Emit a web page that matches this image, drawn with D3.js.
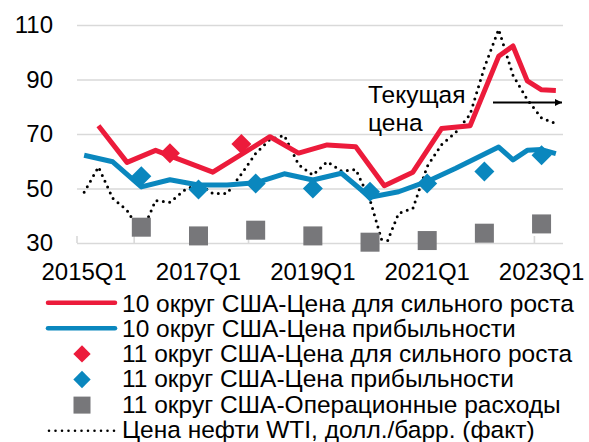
<!DOCTYPE html>
<html>
<head>
<meta charset="utf-8">
<script src="https://cdn.jsdelivr.net/npm/d3@7"></script>
<style>
  html, body { margin: 0; padding: 0; background: #ffffff; }
  svg { display: block; font-family: "Liberation Sans", Arial, sans-serif; }
</style>
</head>
<body>
<svg id="chart" width="589" height="442"></svg>
<script>
// Quarters 2015Q1 .. 2023Q2
const quarters = [];
for (let yr = 2015; yr <= 2023; yr++) {
  for (let q = 1; q <= 4; q++) {
    if (yr === 2023 && q > 2) break;
    quarters.push(yr + "Q" + q);
  }
}
const xTickLabels = ["2015Q1", "2017Q1", "2019Q1", "2021Q1", "2023Q1"];
const yTicks = [30, 50, 70, 90, 110];

// 10th district: price needed for strong growth (survey quarters only)
const kcGrowth = [null, 73, null, 59.6, null, 64, null, null, null, 56, null, null, null, 69, null, 63, null, 66,
  null, 65.3, null, 51, null, 56, null, 72, null, 73, null, 98.5, 102.3, 89.5, 86.2, 86];
// 10th district: price needed to be profitable
const kcProfit = [62.2, null, 59.8, null, 50.6, null, 53.2, null, 51.3, null, 51.3, null, 52.1, null, 55.4, null, 53.1, null,
  55.6, null, 46.8, null, 48.8, null, 52.6, null, 57.4, null, null, 65.2, 60.5, 64, 64.3, 62.8];
// 11th district survey points
const dalGrowth = [null, null, null, null, null, null, 62.9, null, null, null, null, 66.3, null, null, null, null, null, null,
  null, null, null, null, null, null, null, null, null, null, null, null, null, null, null, null];
const dalProfit = [null, null, null, null, 54.5, null, null, null, 49.6, null, null, null, 51.8, null, null, null, 50, null,
  null, null, 48.8, null, null, null, 51.8, null, null, null, 56.2, null, null, null, 62.2, null];
const dalOpex = [null, null, null, null, 35.8, null, null, null, 32.6, null, null, null, 34.7, null, null, null, 32.6, null,
  null, null, 30.3, null, null, null, 30.9, null, null, null, 33.6, null, null, null, 37, null];
// WTI crude, quarterly average, $/bbl
const wti = [48.6, 57.9, 46.4, 42.0, 33.4, 45.6, 44.9, 49.3, 51.8, 48.2, 48.2, 55.3, 62.9, 68.0, 69.5, 58.8, 54.9, 59.8,
  56.4, 57.0, 45.8, 27.8, 40.9, 42.7, 58.1, 66.1, 70.6, 77.2, 94.4, 108.4, 91.6, 82.6, 75.9, 73.8];

const legendLabels = [
  "10 округ США-Цена для сильного роста",
  "10 округ США-Цена прибыльности",
  "11 округ США-Цена для сильного роста",
  "11 округ США-Цена прибыльности",
  "11 округ США-Операционные расходы",
  "Цена нефти WTI, долл./барр. (факт)"
];

const RED = "#ec1b3b", BLUE = "#0a87be", GREY = "#77777a", GRID = "#d9d9d9";

const svg = d3.select("#chart");
const plot = { left: 77, right: 563, top: 25, bottom: 243 };

const x = d3.scaleBand().domain(quarters).range([plot.left, plot.right]).padding(0);
const y = d3.scaleLinear().domain([30, 110]).range([plot.bottom, plot.top]);
const cx = q => x(q) + x.bandwidth() / 2;

// Gridlines + y labels
const yAxis = svg.append("g")
  .attr("transform", `translate(${plot.left},0)`)
  .call(d3.axisLeft(y).tickValues(yTicks).tickSize(-(plot.right - plot.left)).tickPadding(24));
yAxis.select(".domain").remove();
yAxis.selectAll(".tick line").attr("stroke", GRID).attr("stroke-width", 1.6);
yAxis.selectAll(".tick text").attr("font-size", 24).attr("fill", "#000")
  .attr("font-family", "'Liberation Sans', Arial, sans-serif");

// Category tick marks every 4 quarters (pointing into the plot)
const tickBounds = d3.range(0, quarters.length + 1, 4).map(i =>
  i < quarters.length ? x(quarters[i]) : plot.right);
svg.append("g").selectAll("line").data(tickBounds).join("line")
  .attr("x1", d => d).attr("x2", d => d)
  .attr("y1", plot.bottom).attr("y2", plot.bottom - 7)
  .attr("stroke", GRID).attr("stroke-width", 1.6);

// X labels
const xAxis = svg.append("g")
  .attr("transform", `translate(0,${plot.bottom})`)
  .call(d3.axisBottom(x).tickValues(xTickLabels).tickSize(0).tickPadding(20));
xAxis.select(".domain").remove();
xAxis.selectAll(".tick text").attr("font-size", 24).attr("fill", "#000")
  .attr("font-family", "'Liberation Sans', Arial, sans-serif");

// Clip to plot area
svg.append("defs").append("clipPath").attr("id", "plotClip")
  .append("rect").attr("x", plot.left).attr("y", plot.top - 10)
  .attr("width", plot.right - plot.left).attr("height", plot.bottom - plot.top + 11);

const pts = arr => quarters.map((q, i) => ({ q, v: arr[i] })).filter(d => d.v !== null);
const line = d3.line().x(d => cx(d.q)).y(d => y(d.v));

const g = svg.append("g").attr("clip-path", "url(#plotClip)");

// WTI dotted line
g.append("path").datum(pts(wti)).attr("d", line)
  .attr("fill", "none").attr("stroke", "#000").attr("stroke-width", 3)
  .attr("stroke-linecap", "round").attr("stroke-dasharray", "0 6.4");

// 10th district lines
g.append("path").datum(pts(kcGrowth)).attr("d", line)
  .attr("fill", "none").attr("stroke", RED).attr("stroke-width", 5).attr("stroke-linejoin", "round");
g.append("path").datum(pts(kcProfit)).attr("d", line)
  .attr("fill", "none").attr("stroke", BLUE).attr("stroke-width", 5).attr("stroke-linejoin", "round");

// 11th district markers
const diamond = d3.symbol().type(d3.symbolSquare).size(200);
function diamonds(arr, color) {
  svg.append("g").selectAll("path").data(pts(arr)).join("path")
    .attr("d", diamond)
    .attr("transform", d => `translate(${cx(d.q)},${y(d.v)}) rotate(45)`)
    .attr("fill", color);
}
diamonds(dalGrowth, RED);
diamonds(dalProfit, BLUE);
const sq = 19;
svg.append("g").selectAll("rect").data(pts(dalOpex)).join("rect")
  .attr("x", d => cx(d.q) - sq / 2).attr("y", d => y(d.v) - sq / 2)
  .attr("width", sq).attr("height", sq).attr("fill", GREY);

// "Current price" annotation
const ann = svg.append("text").attr("font-size", 24.5).attr("fill", "#000");
ann.append("tspan").attr("x", 368).attr("y", 103).text("Текущая");
ann.append("tspan").attr("x", 368).attr("y", 131).text("цена");
svg.append("defs").append("marker").attr("id", "arrowHead")
  .attr("viewBox", "0 0 10 10").attr("refX", 10).attr("refY", 5)
  .attr("markerWidth", 8).attr("markerHeight", 7).attr("markerUnits", "userSpaceOnUse")
  .attr("orient", "auto")
  .append("path").attr("d", "M0,0 L10,5 L0,10 Z").attr("fill", "#000");
svg.append("line").attr("x1", 493).attr("x2", 562).attr("y1", 102.5).attr("y2", 102.5)
  .attr("stroke", "#000").attr("stroke-width", 2).attr("marker-end", "url(#arrowHead)");

// Legend
const legY = 302.7, legStep = 25.6, textStep = 25.2;
const leg = svg.append("g");
legendLabels.forEach((label, i) => {
  const yy = legY + i * legStep;
  if (i < 2) {
    leg.append("line").attr("x1", 48).attr("x2", 115).attr("y1", yy).attr("y2", yy)
      .attr("stroke", i === 0 ? RED : BLUE).attr("stroke-width", 4.5).attr("stroke-linecap", "round");
  } else if (i < 4) {
    leg.append("path").attr("d", d3.symbol().type(d3.symbolSquare).size(150))
      .attr("transform", `translate(82,${yy}) rotate(45)`).attr("fill", i === 2 ? RED : BLUE);
  } else if (i === 4) {
    leg.append("rect").attr("x", 82 - 8.5).attr("y", yy - 8.5).attr("width", 17).attr("height", 17).attr("fill", GREY);
  } else {
    leg.append("line").attr("x1", 49).attr("x2", 115).attr("y1", yy).attr("y2", yy)
      .attr("stroke", "#000").attr("stroke-width", 2.6).attr("stroke-linecap", "round")
      .attr("stroke-dasharray", "0 6.5");
  }
  leg.append("text").attr("x", 122).attr("y", legY + 9 + i * textStep)
    .attr("font-size", 24.5).attr("fill", "#000").text(label);
});
</script>
</body>
</html>
